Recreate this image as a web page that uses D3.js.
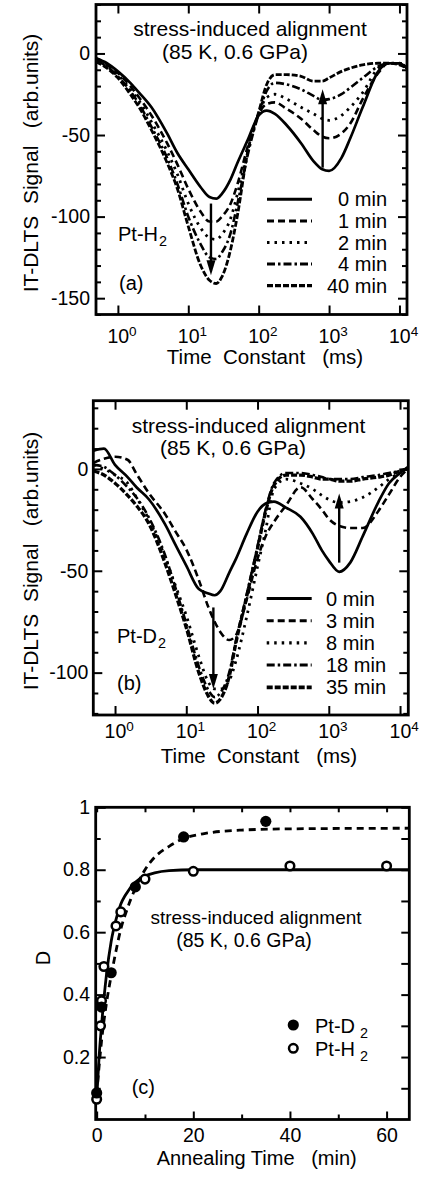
<!DOCTYPE html>
<html><head><meta charset="utf-8">
<script src="https://cdn.jsdelivr.net/npm/d3@7"></script>
<style>
body{margin:0;background:#fff}
svg{display:block}
text{font-family:"Liberation Sans",Arial,Helvetica,sans-serif;fill:#000}
</style>
</head><body>
<svg id="chart" width="427" height="1178"></svg>
<script>
// ================= DATA =================
// Panel (a): Pt-H2, IT-DLTS signal vs time constant (ms)
const timeA = [0.49,0.7,1,1.5,2,3,5,7,10,15,20,25,30,40,50,70,100,130,170,250,400,600,800,1000,1500,2000,3000,5000,7000,10000,12700];
const sigA0  = [-3,-6,-11,-18,-24,-33,-49,-61,-71,-82,-88,-89,-86,-77,-67,-53,-38,-35,-37,-44,-55,-66,-71,-72,-64,-52,-33,-11,-6,-6,-9];
const sigA1  = [-3,-7,-12,-20,-27,-38,-55,-68,-83,-97,-103,-103,-100,-92,-80,-57,-37,-31,-30,-34,-40,-47,-51,-52,-49,-43,-28,-12,-6,-6,-9];
const sigA2  = [-4,-8,-13,-22,-29,-42,-60,-74,-92,-107,-113,-114,-111,-101,-86,-60,-37,-27,-25,-28,-33,-37,-40,-41,-38,-33,-24,-9,-6,-6,-9];
const sigA4  = [-4,-8,-14,-23,-31,-45,-64,-80,-100,-117,-125,-126,-122,-110,-92,-62,-37,-23,-18,-19,-22,-26,-28.5,-28,-25,-21,-15,-8,-6,-6,-9];
const sigA40 = [-5,-9,-15,-25,-33,-47,-67,-83,-106,-130,-139,-141,-137,-120,-99,-60,-36,-19,-13,-13,-14,-17,-17,-15,-11,-9,-7,-6,-6,-7,-9];
const labelsA = ["0 min","1 min","2 min","4 min","40 min"];
const yTicksA = [-150,-100,-50,0];
// arrows: [time constant, from, to]
const arrowsA = [[21,-92,-136],[810,-70,-22]];

// Panel (b): Pt-D2
const timeB = [0.5,0.7,1,1.5,2,3,5,7,10,15,20,25,30,40,50,70,100,130,170,250,400,600,800,1000,1400,2000,3000,5000,7000,10000,13000];
const sigB0  = [9,10,2,-4,-9,-15,-27,-37,-47.5,-59,-61,-62,-60,-51,-44,-32,-21,-17,-16,-19,-23.5,-32,-40,-45,-50.5,-46,-33,-16,-7,-2,1];
const sigB3  = [3,5,6,4.5,-2.4,-12,-22,-30.5,-39.5,-54.5,-67,-75,-80,-84,-81.5,-64.5,-44,-33,-26,-18,-9,-15,-20,-24.5,-28,-29,-29,-20.5,-12.5,-4,0];
const sigB8  = [2,0,-3,-7,-14,-25,-43,-57,-72,-92,-104,-108,-108,-104,-94,-73,-48,-30,-10,-5,-7,-10,-13,-15,-16.5,-16,-14,-9,-5,-2,0];
const sigB18 = [2,1,-3,-9,-14,-24,-42,-58,-76,-97,-108,-112,-110,-100,-84,-62,-38,-20,-7,-2,-2,-3,-4,-5,-5,-5,-4,-3,-2,-1,0];
const sigB35 = [-1,-3,-7,-13,-18,-27,-46,-61,-78,-100,-111,-115,-113,-102,-85,-63,-39,-21,-8,-3,-3,-4,-5,-5,-6,-6,-5,-4,-3,-1,0];
const labelsB = ["0 min","3 min","8 min","18 min","35 min"];
const yTicksB = [-100,-50,0];
const arrowsB = [[24,-68,-108],[1400,-46,-12]];

const decadeTicks = [1,10,100,1000,10000];

// Panel (c): degree of alignment D vs annealing time (min)
const annealH = [0,0.8,1,1.5,4,5,10,20,40,60];
const alignH  = [0.065,0.30,0.38,0.49,0.62,0.665,0.77,0.795,0.812,0.812];
const annealD = [0,1,3,8,18,35];
const alignD  = [0.085,0.36,0.47,0.745,0.905,0.955];
const fitTimeH = [0,0.5,1,2,3,4,5,6,8,10,12,15,20,30,65];
const fitH     = [0.065,0.2,0.3,0.46,0.57,0.64,0.69,0.72,0.76,0.78,0.79,0.797,0.8,0.8,0.8];
const fitTimeD = [0,1,2,3,4,5,6,8,10,12,15,18,22,30,40,65];
const fitD     = [0.08,0.25,0.37,0.46,0.54,0.61,0.66,0.74,0.80,0.84,0.875,0.90,0.915,0.927,0.931,0.933];
const xTicksC = [0,20,40,60];
const yTicksC = [0.2,0.4,0.6,0.8,1];
const legendC = ["Pt-D","Pt-H"];

// ================= DRAWING =================
const svg = d3.select("#chart");
const lineStyles = [
  {dash:null, w:2.7},
  {dash:"7,4", w:2.6},
  {dash:"2.5,5", w:2.8},
  {dash:"8,3,2.5,3", w:2.6},
  {dash:"6,2", w:2.8}
];

function styleAxis(g, fontSize){
  g.attr("font-family",null).attr("font-size",fontSize);
  g.select(".domain").remove();
  g.selectAll(".tick line").attr("stroke","#000").attr("stroke-width",2);
  g.selectAll(".tick text").attr("fill","#000");
}

function frame(box, sw){
  svg.append("rect").attr("x",box.l).attr("y",box.t)
    .attr("width",box.r-box.l).attr("height",box.b-box.t)
    .attr("fill","none").attr("stroke","#000").attr("stroke-width",sw);
}

function arrow(g, x, y1, y2){
  const dir = y2 > y1 ? 1 : -1;
  const hl = 15, hw = 4.5;
  g.append("line").attr("x1",x).attr("x2",x).attr("y1",y1).attr("y2",y2 - dir*hl+dir*2)
    .attr("stroke","#000").attr("stroke-width",2.4);
  g.append("path").attr("d",`M${x},${y2} L${x-hw},${y2-dir*hl} L${x+hw},${y2-dir*hl} Z`).attr("fill","#000");
}

function textAt(x, y, str, size, anchor){
  return svg.append("text").attr("x",x).attr("y",y).attr("font-size",size)
    .attr("text-anchor",anchor||"start").style("white-space","pre").text(str);
}

function subLabel(x, y, main, sub, size, gap){
  const t = svg.append("text").attr("x",x).attr("y",y).attr("font-size",size).style("white-space","pre");
  t.append("tspan").text(main);
  t.append("tspan").attr("font-size",size*0.72).attr("dx",gap||0).attr("dy",5).text(sub);
  return t;
}

function spectrumPanel(cfg){
  const box = cfg.box;
  const x = d3.scaleLog().domain(cfg.xDomain).range([box.l, box.r]);
  const y = d3.scaleLinear().domain(cfg.yDomain).range([box.b, box.t]);
  const id = "clip"+cfg.name;
  svg.append("clipPath").attr("id",id).append("rect")
    .attr("x",box.l).attr("y",box.t).attr("width",box.r-box.l).attr("height",box.b-box.t);

  const minorY = d3.range(Math.ceil(cfg.yDomain[0]/10)*10, cfg.yDomain[1]+0.01, 10).filter(v=>!cfg.yTicks.includes(v));
  const gBot = svg.append("g").attr("transform",`translate(0,${box.b})`)
    .call(d3.axisBottom(x).tickValues(decadeTicks).tickSizeInner(-9).tickSizeOuter(0).tickPadding(cfg.xPad));
  styleAxis(gBot, 19.5);
  gBot.selectAll(".tick text").each(function(d){
    const t = d3.select(this);
    t.text(null).attr("text-anchor","start").attr("x",-11);
    t.append("tspan").text("10");
    t.append("tspan").attr("font-size",13.5).attr("dy",-7).text(String(Math.round(Math.log10(d))));
  });
  const gTop = svg.append("g").attr("transform",`translate(0,${box.t})`)
    .call(d3.axisTop(x).tickValues(decadeTicks).tickSizeInner(-9).tickSizeOuter(0).tickFormat(""));
  styleAxis(gTop, 19.5);
  const gL = svg.append("g").attr("transform",`translate(${box.l},0)`)
    .call(d3.axisLeft(y).tickValues(cfg.yTicks).tickSizeInner(-9).tickSizeOuter(0).tickPadding(cfg.yPad).tickFormat(d=>String(d).replace("\u2212","-")));
  styleAxis(gL, 19.5);
  const gLm = svg.append("g").attr("transform",`translate(${box.l},0)`)
    .call(d3.axisLeft(y).tickValues(minorY).tickSizeInner(-5).tickSizeOuter(0).tickFormat(""));
  styleAxis(gLm, 19.5);
  const gR = svg.append("g").attr("transform",`translate(${box.r},0)`)
    .call(d3.axisRight(y).tickValues(cfg.yTicks).tickSizeInner(-9).tickSizeOuter(0).tickFormat(""));
  styleAxis(gR, 19.5);
  const gRm = svg.append("g").attr("transform",`translate(${box.r},0)`)
    .call(d3.axisRight(y).tickValues(minorY).tickSizeInner(-5).tickSizeOuter(0).tickFormat(""));
  styleAxis(gRm, 19.5);

  const line = d3.line().x(d=>x(d[0])).y(d=>y(d[1])).curve(d3.curveMonotoneX);
  const gc = svg.append("g").attr("clip-path",`url(#${id})`);
  cfg.series.forEach((s,i)=>{
    const st = cfg.styles[i];
    gc.append("path").datum(cfg.times.map((t,k)=>[t,s[k]]))
      .attr("d",line).attr("fill","none").attr("stroke","#000")
      .attr("stroke-width",st.w).attr("stroke-dasharray",st.dash)
      .attr("stroke-linejoin","round");
  });

  cfg.arrows.forEach(a=>arrow(svg, x(a[0]), y(a[1]), y(a[2])));

  cfg.labels.forEach((lab,i)=>{
    const ly = cfg.legend.y0 + i*cfg.legend.dy;
    const st = cfg.styles[i];
    svg.append("line").attr("x1",cfg.legend.x1).attr("x2",cfg.legend.x2).attr("y1",ly).attr("y2",ly)
      .attr("stroke","#000").attr("stroke-width",st.w+0.4).attr("stroke-dasharray",st.dash);
    textAt(cfg.legend.tx, ly+7, lab, 20, cfg.legend.anchor);
  });

  frame(box, 2.8);

  textAt(cfg.ann.x1, cfg.ann.y1, "stress-induced alignment", 21, "middle");
  textAt(cfg.ann.x2, cfg.ann.y2, "(85 K, 0.6 GPa)", 21, "middle");
  svg.append("text").attr("transform",`translate(${cfg.yTitle.x},${cfg.yTitle.y}) rotate(-90)`)
    .attr("font-size",21).attr("text-anchor","middle").style("white-space","pre")
    .text("IT-DLTS  Signal   (arb.units)");
  textAt(cfg.xTitle.x, cfg.xTitle.y, "Time  Constant   (ms)", 20.5, "middle");
  subLabel(cfg.sample.x, cfg.sample.y, cfg.sample.main, "2", 20, 1);
  textAt(cfg.tag.x, cfg.tag.y, cfg.tag.text, 20);
}

// Panel (a)
spectrumPanel({
  name:"a",
  box:{l:96,r:407,t:4.5,b:314.5},
  xDomain:[Math.pow(10,-0.311), Math.pow(10,4.107)],
  yDomain:[-160,30],
  yTicks:yTicksA, xPad:14.5, yPad:6,
  times:timeA, series:[sigA0,sigA1,sigA2,sigA4,sigA40], labels:labelsA,
  styles:lineStyles, arrows:arrowsA,
  legend:{y0:199.3, dy:21.6, x1:267, x2:312, tx:387, anchor:"end"},
  ann:{x1:250,y1:36,x2:235,y2:58.5},
  yTitle:{x:38,y:163},
  xTitle:{x:265,y:364},
  sample:{x:118,y:240.5,main:"Pt-H"},
  tag:{x:119,y:290,text:"(a)"}
});

// Panel (b)
spectrumPanel({
  name:"b",
  box:{l:93.3,r:408.3,t:400.7,b:715},
  xDomain:[Math.pow(10,-0.305), Math.pow(10,4.116)],
  yDomain:[-120.8,33.5],
  yTicks:yTicksB, xPad:9.5, yPad:5,
  times:timeB, series:[sigB0,sigB3,sigB8,sigB18,sigB35], labels:labelsB,
  styles:[lineStyles[0],lineStyles[1],lineStyles[2],lineStyles[3],{dash:"6,2",w:3.3}],
  arrows:arrowsB,
  legend:{y0:598.5, dy:22.2, x1:266.7, x2:311.7, tx:326, anchor:"start"},
  ann:{x1:248.5,y1:432.7,x2:233,y2:455},
  yTitle:{x:38,y:561},
  xTitle:{x:259,y:763},
  sample:{x:117,y:643,main:"Pt-D"},
  tag:{x:117,y:690,text:"(b)"}
});

// Panel (c)
(function(){
  const box = {l:95.7,r:409.3,t:807.3,b:1119.5};
  const x = d3.scaleLinear().domain([-0.2,64.7]).range([box.l,box.r]);
  const y = d3.scaleLinear().domain([0,1]).range([box.b,box.t]);
  const minorX = [10,30,50];
  const minorY = [0.1,0.3,0.5,0.7,0.9];
  const fmt = d=> d===1 ? "1" : d3.format(".1f")(d);
  const gB = svg.append("g").attr("transform",`translate(0,${box.b})`)
    .call(d3.axisBottom(x).tickValues(xTicksC).tickSizeInner(-8).tickSizeOuter(0).tickPadding(8.4));
  styleAxis(gB,19.5);
  const gBm = svg.append("g").attr("transform",`translate(0,${box.b})`)
    .call(d3.axisBottom(x).tickValues(minorX).tickSizeInner(-5).tickSizeOuter(0).tickFormat(""));
  styleAxis(gBm,19.5);
  const gT = svg.append("g").attr("transform",`translate(0,${box.t})`)
    .call(d3.axisTop(x).tickValues(xTicksC.concat(minorX)).tickSizeInner(-5).tickSizeOuter(0).tickFormat(""));
  styleAxis(gT,19.5);
  const gL = svg.append("g").attr("transform",`translate(${box.l},0)`)
    .call(d3.axisLeft(y).tickValues(yTicksC).tickSizeInner(-10).tickSizeOuter(0).tickPadding(5.7).tickFormat(fmt));
  styleAxis(gL,19.5);
  const gLm = svg.append("g").attr("transform",`translate(${box.l},0)`)
    .call(d3.axisLeft(y).tickValues(minorY).tickSizeInner(-5).tickSizeOuter(0).tickFormat(""));
  styleAxis(gLm,19.5);
  const gR = svg.append("g").attr("transform",`translate(${box.r},0)`)
    .call(d3.axisRight(y).tickValues(yTicksC.concat(minorY)).tickSizeInner(-8).tickSizeOuter(0).tickFormat(""));
  styleAxis(gR,19.5);

  svg.append("clipPath").attr("id","clipc").append("rect")
    .attr("x",box.l).attr("y",box.t).attr("width",box.r-box.l).attr("height",box.b-box.t);
  const line = d3.line().x(d=>x(d[0])).y(d=>y(d[1])).curve(d3.curveMonotoneX);
  const gc = svg.append("g").attr("clip-path","url(#clipc)");
  gc.append("path").datum(fitTimeD.map((t,i)=>[t,fitD[i]])).attr("d",line)
    .attr("fill","none").attr("stroke","#000").attr("stroke-width",2.8).attr("stroke-dasharray","7,5");
  gc.append("path").datum(fitTimeH.map((t,i)=>[t,fitH[i]])).attr("d",line)
    .attr("fill","none").attr("stroke","#000").attr("stroke-width",2.8);

  frame(box, 2.8);

  svg.append("g").selectAll("circle").data(annealH.map((t,i)=>[t,alignH[i]])).join("circle")
    .attr("cx",d=>x(d[0])).attr("cy",d=>y(d[1])).attr("r",4.3)
    .attr("fill","#fff").attr("stroke","#000").attr("stroke-width",2.5);
  svg.append("g").selectAll("circle").data(annealD.map((t,i)=>[t,alignD[i]])).join("circle")
    .attr("cx",d=>x(d[0])).attr("cy",d=>y(d[1])).attr("r",5.6).attr("fill","#000");

  svg.append("circle").attr("cx",293.3).attr("cy",1025).attr("r",5.6).attr("fill","#000");
  svg.append("circle").attr("cx",293.3).attr("cy",1048.3).attr("r",4.3).attr("fill","#fff").attr("stroke","#000").attr("stroke-width",2.5);
  subLabel(315,1033,legendC[0],"2",20,5);
  subLabel(315,1056,legendC[1],"2",20,5);

  textAt(256,924,"stress-induced alignment",19,"middle");
  textAt(244,946.7,"(85 K, 0.6 GPa)",19.5,"middle");
  textAt(131.7,1094,"(c)",20);
  textAt(256.7,1165,"Annealing Time   (min)",20,"middle");
  svg.append("text").attr("transform","translate(50,958) rotate(-90)")
    .attr("font-size",20).attr("text-anchor","middle").text("D");
})();
</script>
</body></html>
